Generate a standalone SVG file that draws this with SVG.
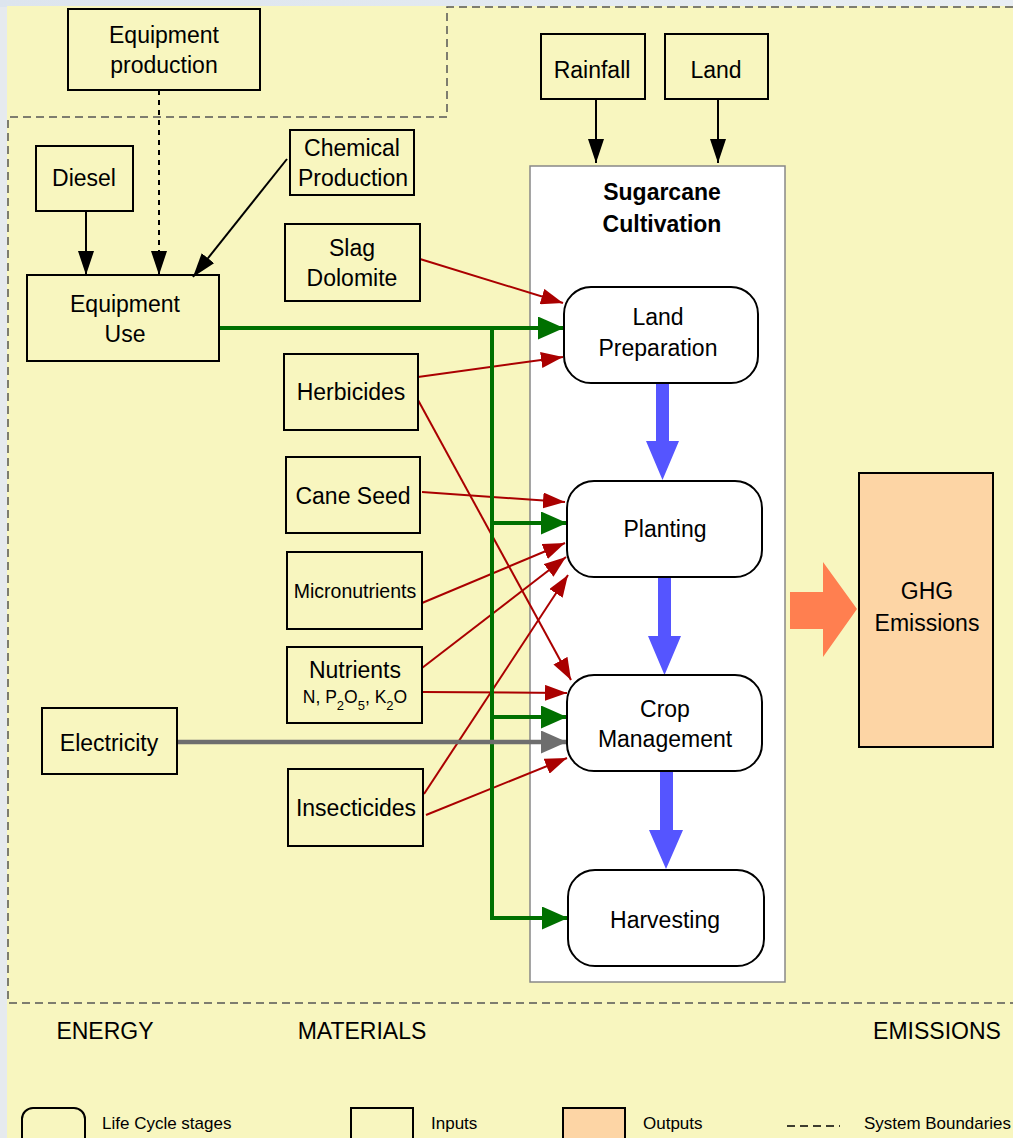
<svg xmlns="http://www.w3.org/2000/svg" width="1013" height="1138" viewBox="0 0 1013 1138">
<defs>
<linearGradient id="topg" x1="0" y1="0" x2="1" y2="0">
<stop offset="0" stop-color="#DDE5EE"/><stop offset="1" stop-color="#E9EEF3"/>
</linearGradient>
<marker id="ab" markerUnits="userSpaceOnUse" markerWidth="24" markerHeight="16" refX="24" refY="8" orient="auto"><path d="M0,0 L24,8 L0,16 z" fill="#000"/></marker>
<marker id="ar" markerUnits="userSpaceOnUse" markerWidth="22" markerHeight="16" refX="22" refY="8" orient="auto"><path d="M0,0 L22,8 L0,16 z" fill="#AA0000"/></marker>
<marker id="ag" markerUnits="userSpaceOnUse" markerWidth="26" markerHeight="23" refX="26" refY="11.5" orient="auto"><path d="M0,0 L26,11.5 L0,23 z" fill="#007000"/></marker>
<marker id="agr" markerUnits="userSpaceOnUse" markerWidth="26" markerHeight="23" refX="26" refY="11.5" orient="auto"><path d="M0,0 L26,11.5 L0,23 z" fill="#6E6E6E"/></marker>
</defs>
<style>
text{font-family:"Liberation Sans",Arial,sans-serif;font-size:23px;fill:#000;text-anchor:middle}
text.sm{font-size:19.5px}
text.chem{font-size:17.5px}
tspan.sub{font-size:13px}
text.leg{font-size:17px;text-anchor:start}
.inp{fill:none;stroke:#000;stroke-width:2}
.stage{fill:#fff;stroke:#000;stroke-width:2}
.red{stroke:#AA0000;stroke-width:2;fill:none;marker-end:url(#ar)}
.blk{stroke:#000;stroke-width:2;fill:none;marker-end:url(#ab)}
.grn{stroke:#007000;stroke-width:4;fill:none}
.bnd{stroke:#555;stroke-width:1.5;fill:none;stroke-dasharray:8 5}
.blue{fill:#5555FF}
</style>
<rect x="0" y="0" width="1013" height="1138" fill="#E6EAEE"/>
<rect x="0" y="0" width="1013" height="7" fill="url(#topg)"/>
<rect x="7" y="6" width="1006" height="1132" fill="#F8F6BF"/>
<path class="bnd" d="M1013,7 H447 V117 H8 V1003 H1013"/>
<g id="sugarcane-cultivation">
<rect x="530" y="166" width="255" height="816" fill="#fff" stroke="#888" stroke-width="1.5"/>
<text x="662" y="200" font-weight="bold">Sugarcane</text>
<text x="662" y="232" font-weight="bold">Cultivation</text>
</g>
<g id="connectors">
<line class="blk" x1="596" y1="99" x2="596" y2="163"/>
<line class="blk" x1="718" y1="99" x2="718" y2="163"/>
<line class="blk" x1="86" y1="211" x2="86" y2="275"/>
<line class="blk" x1="159" y1="90" x2="159" y2="275" stroke-dasharray="5 5"/>
<line class="blk" x1="287" y1="159" x2="193" y2="277"/>
<line class="red" x1="420" y1="259" x2="563" y2="303"/>
<line class="red" x1="418" y1="377" x2="563" y2="357"/>
<line class="red" x1="418" y1="400" x2="571" y2="680"/>
<line class="red" x1="422" y1="492" x2="565" y2="502"/>
<line class="red" x1="422" y1="603" x2="565" y2="543"/>
<line class="red" x1="422" y1="668" x2="566" y2="557"/>
<line class="red" x1="423" y1="692" x2="567" y2="693"/>
<line class="red" x1="424" y1="794" x2="568" y2="575"/>
<line class="red" x1="426" y1="815" x2="567" y2="758"/>
<path class="grn" d="M219,328 H564" marker-end="url(#ag)"/>
<path class="grn" d="M492,328 V918 H568" marker-end="url(#ag)"/>
<path class="grn" d="M492,523 H567" marker-end="url(#ag)"/>
<path class="grn" d="M492,717 H567" marker-end="url(#ag)"/>
<path d="M177,742 H567" stroke="#6E6E6E" stroke-width="4.5" fill="none" marker-end="url(#agr)"/>
<polygon class="blue" points="656,383 669,383 669,441 679,441 662.5,480 646,441 656,441"/>
<polygon class="blue" points="658,577 671,577 671,636 681,636 664.5,675 648,636 658,636"/>
<polygon class="blue" points="660,771 673,771 673,830 683,830 666,869 649,830 660,830"/>
<polygon points="790,592 823,592 823,562 857,609 823,657 823,629 790,629" fill="#FF7F50"/>
</g>
<g id="equipment-production"><rect class="inp" x="68" y="9" width="192" height="81"/><text x="164" y="43">Equipment</text><text x="164" y="73">production</text></g>
<g id="diesel"><rect class="inp" x="36" y="146" width="97" height="65"/><text x="84" y="186">Diesel</text></g>
<g id="chemical-production"><rect class="inp" x="290" y="130" width="124" height="65"/><text x="352" y="156">Chemical</text><text x="353" y="186">Production</text></g>
<g id="equipment-use"><rect class="inp" x="27" y="275" width="192" height="86"/><text x="125" y="312">Equipment</text><text x="125" y="342">Use</text></g>
<g id="slag-dolomite"><rect class="inp" x="285" y="224" width="135" height="77"/><text x="352" y="256">Slag</text><text x="352" y="286">Dolomite</text></g>
<g id="herbicides"><rect class="inp" x="284" y="354" width="134" height="76"/><text x="351" y="400">Herbicides</text></g>
<g id="cane-seed"><rect class="inp" x="286" y="457" width="134" height="76"/><text x="353" y="504">Cane Seed</text></g>
<g id="micronutrients"><rect class="inp" x="287" y="552" width="135" height="77"/><text class="sm" x="355" y="598">Micronutrients</text></g>
<g id="nutrients"><rect class="inp" x="287" y="647" width="135" height="76"/><text x="355" y="678">Nutrients</text><text class="chem" x="355" y="703">N, P<tspan class="sub" dy="7">2</tspan><tspan dy="-7">O</tspan><tspan class="sub" dy="7">5</tspan><tspan dy="-7">, K</tspan><tspan class="sub" dy="7">2</tspan><tspan dy="-7">O</tspan></text></g>
<g id="electricity"><rect class="inp" x="42" y="708" width="135" height="66"/><text x="109" y="751">Electricity</text></g>
<g id="insecticides"><rect class="inp" x="288" y="769" width="135" height="77"/><text x="356" y="816">Insecticides</text></g>
<g id="rainfall"><rect class="inp" x="541" y="34" width="104" height="65"/><text x="592" y="78">Rainfall</text></g>
<g id="land"><rect class="inp" x="665" y="34" width="103" height="65"/><text x="716" y="78">Land</text></g>
<g id="land-preparation"><rect class="stage" x="564" y="287" width="194" height="96" rx="27"/><text x="658" y="325">Land</text><text x="658" y="356">Preparation</text></g>
<g id="planting"><rect class="stage" x="567" y="481" width="195" height="96" rx="27"/><text x="665" y="537">Planting</text></g>
<g id="crop-management"><rect class="stage" x="567" y="675" width="195" height="96" rx="27"/><text x="665" y="717">Crop</text><text x="665" y="747">Management</text></g>
<g id="harvesting"><rect class="stage" x="568" y="870" width="196" height="96" rx="27"/><text x="665" y="928">Harvesting</text></g>
<g id="ghg-emissions"><rect x="859" y="473" width="134" height="274" fill="#FDD5A5" stroke="#000" stroke-width="2"/><text x="927" y="599">GHG</text><text x="927" y="631">Emissions</text></g>
<g id="labels">
<text x="105" y="1039">ENERGY</text>
<text x="362" y="1039">MATERIALS</text>
<text x="937" y="1039">EMISSIONS</text>
</g>
<g id="legend">
<rect x="22" y="1108" width="63" height="44" rx="11" fill="none" stroke="#000" stroke-width="2"/>
<text class="leg" x="102" y="1129">Life Cycle stages</text>
<rect x="351" y="1108" width="62" height="44" fill="none" stroke="#000" stroke-width="2"/>
<text class="leg" x="431" y="1129">Inputs</text>
<rect x="563" y="1108" width="62" height="44" fill="#FDD5A5" stroke="#000" stroke-width="2"/>
<text class="leg" x="643" y="1129">Outputs</text>
<line x1="787" y1="1126" x2="840" y2="1126" stroke="#000" stroke-width="1.5" stroke-dasharray="8 5"/>
<text class="leg" x="864" y="1129" textLength="147" lengthAdjust="spacingAndGlyphs">System Boundaries</text>
</g>
</svg>
